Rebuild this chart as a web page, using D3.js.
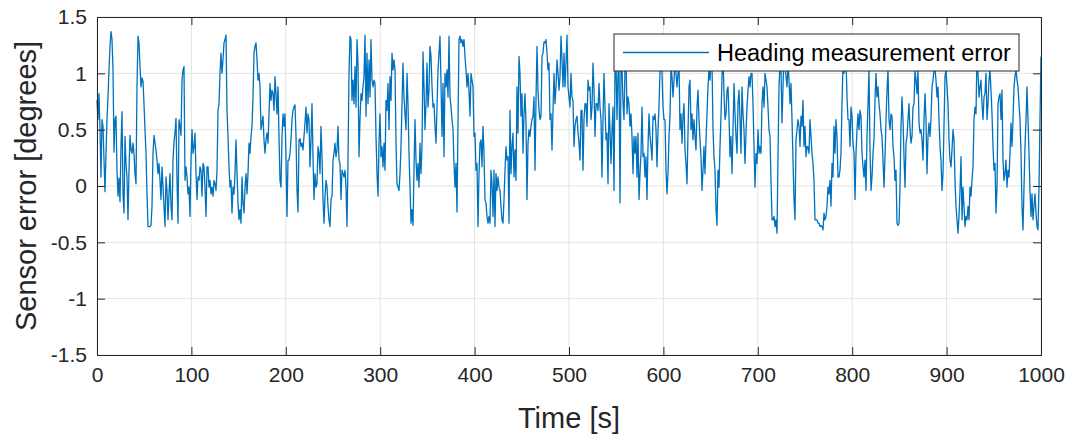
<!DOCTYPE html>
<html><head><meta charset="utf-8">
<script src="https://cdn.jsdelivr.net/npm/d3@7"></script>
<style>
html,body{margin:0;padding:0;background:#fff;}
svg{display:block;font-family:"Liberation Sans",Arial,Helvetica,sans-serif;}
</style></head>
<body><svg id="chart" width="1077" height="439"></svg>
<script>
const seg1 = [0.76,0.59,0.82,0.50,0.08,0.59,0.53,0.23,-0.05,0.29,0.59,0.79,1.03,1.24,1.37,1.30,1.03,0.30,0.59,0.62,0.14,-0.09,0.07,-0.14,0.35,0.66,-0.07,-0.24,0.44,0.20,0.08,-0.30,0.14,0.45,0.32,0.29,0.38,0.29,0.11,0.02,0.88,1.33,1.27,1.06,0.88,0.96,0.93,0.73,0.50,0.29,-0.07,-0.36,-0.36,-0.36,-0.35,-0.18,0.29,0.45,0.38,0.32,0.23,0.11,0.20,0.05,-0.12,0.17,-0.01,-0.18,-0.36,0.08,-0.04,-0.30,-0.07,0.11,-0.18,-0.30,0.23,0.39,0.47,0.60,0.05,-0.33,0.59,0.53,0.45,0.94,1.03,1.06,0.05,0.17,0.08,-0.07,-0.01];
const seg2 = [-0.27,0.23,0.50,0.29,0.35,0.47,0.11,-0.12,0.08,0.05,0.17,0.14,-0.09,0.20,0.17,-0.01,-0.27,0.17,0.17,-0.01,0.05,-0.07,-0.01,-0.09,0.05,0.02,-0.04,0.14,0.67,0.73,1.00,1.18,1.00,1.12,1.27,1.30,1.34,0.67,0.44,0.17,-0.01,0.05,-0.24,-0.01,-0.07,0.11,0.41,0.11,-0.15,-0.30,-0.21,-0.33,0.08,-0.15,-0.24,-0.01,0.11,-0.07,0.11,0.38,0.29,0.44,0.53,0.79,1.18,1.24,1.27,1.12,0.94,1.00,0.88,0.50,0.56,0.62,0.41,0.29,0.41,0.47,0.38,0.64,0.91,0.76,0.85,0.82,0.67,0.97,0.82,0.64,0.88,0.44,0.05,-0.01,0.44,0.64,0.53];
const seg3 = [0.64,0.23,-0.27,0.23,0.23,0.29,0.41,0.59,0.67,0.70,0.72,0.44,-0.04,-0.23,0.41,0.42,0.35,0.38,0.32,0.44,0.56,0.70,0.47,0.64,0.59,0.17,0.41,0.73,0.26,-0.12,0.11,-0.01,0.02,0.35,0.29,0.11,0.53,0.26,-0.12,-0.33,-0.09,0.05,-0.01,-0.18,-0.30,-0.36,-0.12,-0.09,0.23,0.29,0.38,0.26,0.32,0.53,0.23,0.20,-0.12,0.14,0.11,0.08,0.14,-0.01,-0.36,0.23,1.00,1.33,1.30,0.76,0.94,0.73,1.06,0.70,1.30,1.09,0.26,0.59,0.82,0.76,0.88,0.97,1.34,0.62,1.18,0.73,1.12,0.79,1.30,0.94,0.88,0.94,0.91,0.44,0.11,-0.09,0.38];
const seg4 = [0.64,0.26,0.35,0.17,0.38,0.14,0.76,0.67,0.91,0.50,0.97,0.76,1.18,1.03,1.12,1.03,0.38,0.02,-0.01,-0.04,0.11,0.35,0.73,1.09,0.79,0.64,0.50,1.00,0.73,0.29,-0.01,-0.33,-0.21,-0.35,0.14,0.59,0.23,0.05,0.20,-0.01,0.38,0.11,0.35,1.19,0.88,0.50,0.73,1.09,0.70,0.85,1.24,1.15,0.88,0.70,0.73,0.53,0.38,0.70,1.03,1.18,1.33,0.91,0.44,0.91,0.26,1.00,0.88,1.03,0.79,1.33,0.79,0.70,0.59,0.50,0.20,-0.01,0.20,-0.23,0.56,1.30,1.33,1.27,1.30,1.24,1.30,1.15,1.03,0.88,1.00,0.85,0.62,1.00,0.94,0.88,0.44];
const seg5 = [0.47,0.14,0.20,-0.36,0.11,0.38,0.41,0.17,0.53,0.29,-0.12,-0.15,-0.27,-0.33,-0.27,-0.33,0.14,0.02,-0.27,0.14,-0.36,0.11,-0.04,0.08,-0.01,-0.04,-0.18,-0.30,-0.33,-0.12,0.14,0.35,0.23,0.26,-0.33,0.67,0.11,0.35,0.47,0.08,0.32,0.05,0.88,0.47,1.15,1.00,0.62,0.82,0.29,0.64,0.82,0.56,-0.12,0.38,0.50,0.44,0.53,0.59,0.62,0.79,0.14,0.76,1.24,0.85,0.67,0.59,0.62,1.15,1.18,1.28,1.27,1.30,1.18,1.03,1.09,0.59,0.64,0.32,0.67,1.00,0.73,0.88,1.12,1.00,0.85,0.97,1.33,1.12,0.88,1.18,0.88,1.09,1.34,0.88,0.79];
const seg6 = [0.70,1.00,0.79,0.76,0.35,0.53,0.59,0.62,0.47,0.38,0.23,0.67,0.67,0.14,0.59,0.73,0.73,0.53,0.94,0.85,0.88,0.59,0.70,1.09,0.85,0.44,0.73,0.73,0.67,0.91,0.70,0.59,0.08,0.59,1.00,0.70,0.41,0.47,0.02,0.73,0.50,0.20,0.50,0.70,-0.04,1.03,1.09,0.59,1.00,1.06,-0.15,1.03,1.06,0.73,0.59,1.06,1.15,0.64,0.79,0.73,0.53,0.64,0.44,0.11,0.44,0.29,0.44,0.08,0.47,-0.12,0.11,0.29,0.70,0.26,0.29,0.08,0.26,-0.12,0.35,0.64,0.44,0.35,0.23,0.62,0.59,0.64,0.50,0.17,0.50,0.70,1.03,1.18,1.00,0.70,0.59];
const seg7 = [0.59,0.14,-0.07,0.11,0.44,0.62,1.06,0.97,0.79,0.94,1.12,1.00,0.88,1.00,1.09,0.50,0.64,0.38,0.62,0.73,0.32,0.20,0.02,0.47,0.88,0.94,0.50,0.64,0.41,0.59,0.44,0.32,0.70,0.85,0.59,0.41,0.26,-0.04,0.14,0.35,0.11,0.41,0.64,0.88,1.03,0.94,1.12,1.09,0.50,0.26,0.14,-0.20,-0.35,0.14,-0.01,0.35,0.62,0.97,1.15,0.82,0.59,0.64,0.85,0.88,0.62,0.26,0.44,0.11,0.50,0.91,0.64,0.44,0.29,0.73,0.85,0.59,0.29,0.88,0.64,0.50,0.20,0.47,0.70,0.85,0.97,0.88,1.00,1.00,0.73,0.35,-0.01,0.29,0.20,0.50,0.29];
const seg8 = [0.35,0.29,0.73,0.88,0.70,1.00,0.94,0.88,0.70,0.50,0.44,0.05,-0.30,-0.30,-0.27,-0.36,-0.30,-0.42,0.26,0.88,1.09,1.03,0.56,0.88,1.18,1.06,0.97,0.88,1.09,0.94,0.73,0.91,0.59,0.23,-0.12,-0.30,0.41,0.50,0.59,0.53,0.35,0.62,0.53,0.76,0.35,0.53,0.26,0.35,0.35,0.29,0.59,0.44,0.29,0.20,0.05,-0.30,-0.30,-0.30,-0.33,-0.33,-0.36,-0.35,-0.36,-0.39,-0.24,-0.30,-0.27,-0.18,-0.01,-0.07,0.05,-0.18,0.20,0.08,0.53,0.29,0.59,0.44,0.08,0.08,0.14,0.29,0.73,1.09,1.00,1.18,1.12,0.79,0.59,0.59,0.35,0.70,0.62,0.38,0.29];
const seg9 = [-0.12,0.29,0.50,0.64,0.50,0.67,0.62,0.29,0.17,0.08,0.23,-0.04,0.44,0.73,1.03,0.32,-0.04,0.08,0.29,0.41,0.76,1.00,0.79,0.88,0.73,0.64,0.50,0.44,0.23,-0.01,0.26,0.59,0.85,1.03,0.59,0.50,0.64,0.62,0.35,0.26,0.05,0.14,-0.33,-0.35,-0.33,-0.01,0.53,0.79,0.59,0.26,-0.01,0.38,0.44,0.59,0.73,0.50,0.38,0.44,0.70,0.73,1.03,0.94,0.82,1.03,0.56,0.47,0.50,0.41,0.23,0.59,0.82,0.59,0.11,0.44,0.56,0.44,0.59,0.88,0.94,1.03,1.03,0.94,0.79,0.88,0.59,0.35,0.23,-0.04,0.11,0.53,0.97,1.03,0.88,0.73,0.41];
const seg10 = [0.23,0.17,0.32,0.50,0.41,0.05,-0.18,-0.30,-0.42,-0.27,-0.04,0.26,-0.30,-0.01,-0.18,-0.36,-0.27,-0.30,-0.18,-0.30,-0.01,-0.09,0.05,0.17,0.59,0.70,0.64,1.18,1.00,0.79,0.88,0.94,0.73,0.59,0.79,0.82,1.00,0.59,0.73,0.94,1.03,0.85,0.64,0.35,0.14,0.20,-0.24,-0.01,0.73,0.79,0.82,0.59,0.85,0.23,0.05,0.11,0.23,-0.01,0.14,0.08,0.29,0.56,0.35,0.59,0.88,0.97,1.03,0.94,0.88,0.73,0.59,0.29,-0.18,-0.39,-0.01,0.35,0.59,0.88,0.59,0.29,-0.04,-0.27,-0.07,-0.30,-0.18,-0.07,-0.24,-0.36,-0.39,-0.01,0.59,1.15];

const xTicks = [0,100,200,300,400,500,600,700,800,900,1000];
const yTicks = [-1.5,-1,-0.5,0,0.5,1,1.5];
const xLabel = "Time [s]";
const yLabel = "Sensor error [degrees]";
const legendLabel = "Heading measurement error";
const tStart = 0, tEnd = 1000;

const errorDeg = [].concat(seg1,seg2,seg3,seg4,seg5,seg6,seg7,seg8,seg9,seg10);
const dt = (tEnd - tStart) / (errorDeg.length - 1);
const series = errorDeg.map((v,i)=>({t: tStart + i*dt, v}));

const W = 1077, H = 439;
const m = {left:97, right:W-1041, top:17, bottom:H-355};
const iw = W - m.left - m.right, ih = H - m.top - m.bottom;
const ink = "#262626";
const fontFam = '"Liberation Sans",Arial,sans-serif';

const svg = d3.select("#chart");
const g = svg.append("g").attr("transform",`translate(${m.left},${m.top})`);
const x = d3.scaleLinear().domain([0,1000]).range([0,iw]);
const y = d3.scaleLinear().domain([-1.5,1.5]).range([ih,0]);

// grid
g.append("g").selectAll("line").data(xTicks).join("line")
  .attr("x1",d=>x(d)).attr("x2",d=>x(d)).attr("y1",0).attr("y2",ih)
  .attr("stroke","#e3e3e3").attr("stroke-width",1);
g.append("g").selectAll("line").data(yTicks).join("line")
  .attr("y1",d=>y(d)).attr("y2",d=>y(d)).attr("x1",0).attr("x2",iw)
  .attr("stroke","#e3e3e3").attr("stroke-width",1);

// data line
g.append("path").datum(series)
  .attr("fill","none").attr("stroke","#0072BD").attr("stroke-width",1.3)
  .attr("stroke-linejoin","round")
  .attr("d", d3.line().x(d=>x(d.t)).y(d=>y(d.v)));

// axes (MATLAB style inward ticks, box)
const fmt = d => String(d);
const axB = g.append("g").attr("transform",`translate(0,${ih})`)
  .call(d3.axisBottom(x).tickValues(xTicks).tickSize(-8).tickPadding(12).tickFormat(fmt));
const axT = g.append("g")
  .call(d3.axisTop(x).tickValues(xTicks).tickSize(-8).tickFormat(""));
const axL = g.append("g")
  .call(d3.axisLeft(y).tickValues(yTicks).tickSize(-8).tickPadding(10).tickFormat(fmt));
const axR = g.append("g").attr("transform",`translate(${iw},0)`)
  .call(d3.axisRight(y).tickValues(yTicks).tickSize(-8).tickFormat(""));
[axB,axT,axL,axR].forEach(a=>{
  a.select(".domain").attr("stroke",ink).attr("stroke-width",1);
  a.selectAll(".tick line").attr("stroke",ink).attr("stroke-width",1);
  a.selectAll("text").attr("fill",ink).style("font-size","21px").style("font-family",fontFam);
});
axB.selectAll("text").attr("dy","0.71em");

// axis labels
svg.append("text").attr("x", m.left + iw/2).attr("y", 428)
  .attr("text-anchor","middle").attr("fill",ink).style("font-size","29px").style("font-family",fontFam).text(xLabel);
svg.append("text").attr("transform",`translate(36,${m.top+ih/2}) rotate(-90)`)
  .attr("text-anchor","middle").attr("fill",ink).style("font-size","29px").style("font-family",fontFam).text(yLabel);

// legend
const lg = svg.append("g").attr("transform","translate(614,34)");
lg.append("rect").attr("width",405).attr("height",37).attr("fill","#fff")
  .attr("stroke",ink).attr("stroke-width",1);
lg.append("line").attr("x1",9).attr("x2",95).attr("y1",18.5).attr("y2",18.5)
  .attr("stroke","#0072BD").attr("stroke-width",1.3);
lg.append("text").attr("x",103).attr("y",27).attr("fill","#000")
  .style("font-size","23.5px").style("font-family",fontFam).text(legendLabel);
</script></body></html>
